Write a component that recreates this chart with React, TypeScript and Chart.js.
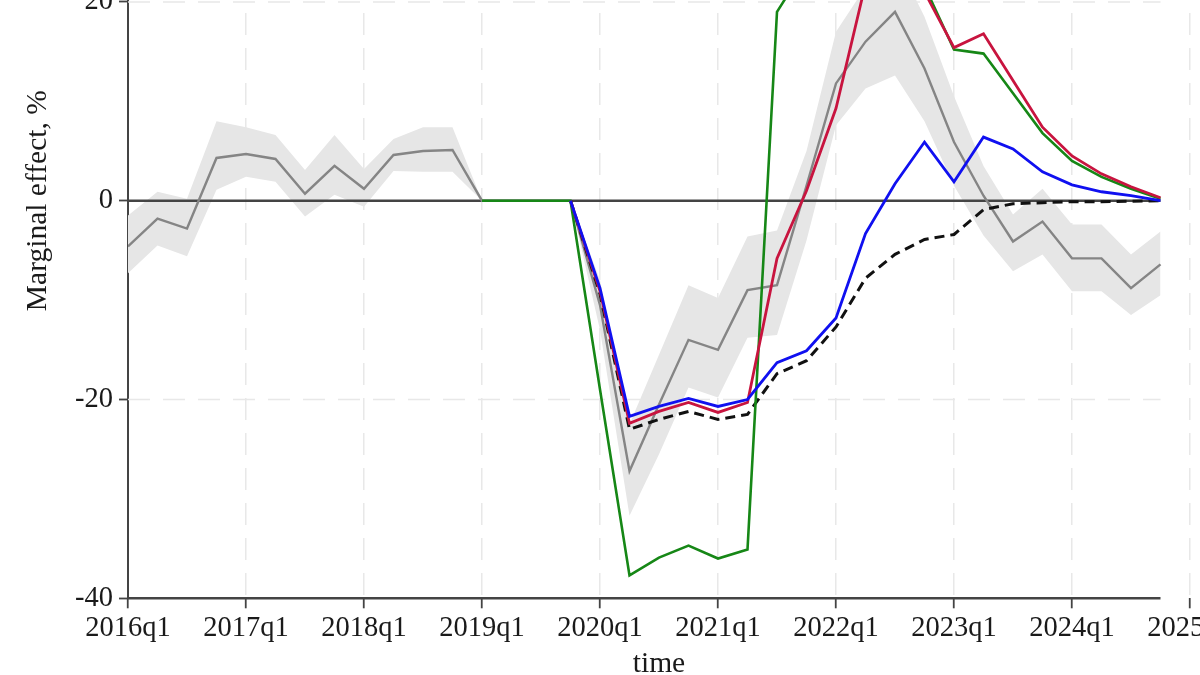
import { useEffect, useRef } from "react";
import { Chart, registerables } from "chart.js";

Chart.register(...registerables);

// quarters 2016q1 .. 2024q4 (x index 0..35)
const QUARTERS = [
  "2016q1", "2016q2", "2016q3", "2016q4",
  "2017q1", "2017q2", "2017q3", "2017q4",
  "2018q1", "2018q2", "2018q3", "2018q4",
  "2019q1", "2019q2", "2019q3", "2019q4",
  "2020q1", "2020q2", "2020q3", "2020q4",
  "2021q1", "2021q2", "2021q3", "2021q4",
  "2022q1", "2022q2", "2022q3", "2022q4",
  "2023q1", "2023q2", "2023q3", "2023q4",
  "2024q1", "2024q2", "2024q3", "2024q4",
];

const X_TICK_LABELS = [
  "2016q1", "2017q1", "2018q1", "2019q1", "2020q1",
  "2021q1", "2022q1", "2023q1", "2024q1", "2025q1",
];

const Y_MIN = -40;
const Y_MAX = 40;
const Y_STEP = 20;

const ESTIMATE = [
  -4.6, -1.8, -2.8, 4.3, 4.7, 4.2, 0.7, 3.5, 1.2, 4.6, 5.0, 5.1,
  0, 0, 0, 0, -10.5, -27.2, -20.5, -14.0, -15.0, -9.0, -8.5, 1.5,
  11.8, 16.0, 19.0, 13.3, 5.9, 0.5, -4.1, -2.1, -5.8, -5.8, -8.8, -6.4,
];

const CI_UPPER = [
  -1.5, 0.9, 0.2, 8.0, 7.4, 6.6, 3.1, 6.6, 3.2, 6.2, 7.4, 7.4,
  0, 0, 0, 0, -8.0, -22.5, -15.5, -8.5, -9.8, -3.6, -3.0, 5.0,
  17.0, 21.5, 24.5, 18.5, 10.5, 3.5, -1.4, 1.2, -2.4, -2.4, -5.4, -3.1,
];

const CI_LOWER = [
  -7.3, -4.5, -5.6, 1.1, 2.4, 1.9, -1.6, 0.6, -0.6, 3.0, 2.9, 2.9,
  0, 0, 0, 0, -13.0, -31.7, -25.5, -18.8, -19.8, -13.8, -13.5, -4.0,
  7.6, 11.3, 12.6, 8.0, 1.5, -3.5, -7.1, -5.4, -9.1, -9.1, -11.5, -9.5,
];

const SERIES_GREEN = [
  null, null, null, null, null, null, null, null, null, null, null, null,
  0, 0, 0, 0, -19.0, -37.7, -35.9, -34.7, -36.0, -35.1, 19.0, 23.7,
  30.0, 31.0, 28.0, 21.6, 15.2, 14.8, 10.8, 6.8, 4.0, 2.4, 1.2, 0.2,
];

const SERIES_RED = [
  null, null, null, null, null, null, null, null, null, null, null, null,
  null, null, null, 0, -9.1, -22.4, -21.2, -20.3, -21.3, -20.3, -5.8, 1.0,
  9.3, 21.8, 25.0, 21.0, 15.4, 16.8, 12.1, 7.4, 4.5, 2.7, 1.4, 0.3,
];

const SERIES_BLUE = [
  null, null, null, null, null, null, null, null, null, null, null, null,
  null, null, null, 0, -8.8, -21.7, -20.7, -19.9, -20.7, -20.0, -16.3, -15.1,
  -11.8, -3.3, 1.7, 5.9, 1.9, 6.4, 5.2, 2.9, 1.6, 0.9, 0.5, 0.0,
];

const SERIES_DASHED = [
  null, null, null, null, null, null, null, null, null, null, null, null,
  null, null, null, 0, -9.4, -23.0, -22.0, -21.2, -22.0, -21.5, -17.4, -16.1,
  -12.7, -7.8, -5.4, -3.9, -3.4, -0.9, -0.3, -0.2, -0.1, -0.1, -0.05, 0,
];

const FONT = "'Liberation Serif', 'Times New Roman', serif";
const TEXT_COLOR = "#1a1a1a";
const AXIS_COLOR = "#444444";
const GRID_COLOR = "#e8e8e8";
const GRID_DASH = [22, 13];
const BAND_INDEX = 5;
const TICK_FONT_SIZE = 28.5;
const TITLE_FONT_SIZE = 29.5;

const toPoints = (arr: (number | null)[]) =>
  arr
    .map((v, i) => (v === null ? null : { x: i, y: v }))
    .filter((p) => p !== null) as { x: number; y: number }[];

const axisPlugin = {
  id: "axisLines",
  beforeDatasetsDraw(chart: any) {
    const { ctx, scales } = chart;
    const x = scales.x;
    const y = scales.y;
    const x0 = x.getPixelForValue(0);
    const x1 = x.getPixelForValue(QUARTERS.length - 1);
    ctx.save();
    ctx.strokeStyle = GRID_COLOR;
    ctx.lineWidth = 1.5;
    ctx.setLineDash(GRID_DASH);
    for (const t of y.ticks) {
      if (t.value === 0 || t.value === y.min || t.value === y.max) continue;
      const py = y.getPixelForValue(t.value);
      ctx.beginPath();
      ctx.moveTo(x0, py);
      ctx.lineTo(x1, py);
      ctx.stroke();
    }
    ctx.restore();
  },
  afterDatasetDraw(chart: any, args: any) {
    if (args.index !== BAND_INDEX) return;
    const { ctx, scales } = chart;
    const x = scales.x;
    const y = scales.y;
    const py = y.getPixelForValue(0);
    ctx.save();
    ctx.strokeStyle = AXIS_COLOR;
    ctx.lineWidth = 2.5;
    ctx.beginPath();
    ctx.moveTo(x.getPixelForValue(0), py);
    ctx.lineTo(x.getPixelForValue(QUARTERS.length - 1), py);
    ctx.stroke();
    ctx.restore();
  },
  afterDatasetsDraw(chart: any) {
    const { ctx, scales } = chart;
    const x = scales.x;
    const y = scales.y;
    const py = y.getPixelForValue(y.min);
    ctx.save();
    ctx.strokeStyle = AXIS_COLOR;
    ctx.lineWidth = 2.5;
    ctx.beginPath();
    ctx.moveTo(x.getPixelForValue(0) - 1, py);
    ctx.lineTo(x.getPixelForValue(QUARTERS.length - 1), py);
    ctx.stroke();
    ctx.restore();
  },
};

export default function App() {
  const ref = useRef<HTMLCanvasElement | null>(null);

  useEffect(() => {
    if (!ref.current) return;
    const lineBase = {
      pointRadius: 0,
      pointHoverRadius: 0,
      fill: false,
      tension: 0,
      borderJoinStyle: "miter" as const,
    };
    const chart = new Chart(ref.current, {
      type: "line",
      data: {
        datasets: [
          { ...lineBase, label: "blue", data: toPoints(SERIES_BLUE), borderColor: "#1010f0", borderWidth: 2.8 },
          { ...lineBase, label: "red", data: toPoints(SERIES_RED), borderColor: "#c8143f", borderWidth: 2.8 },
          { ...lineBase, label: "green", data: toPoints(SERIES_GREEN), borderColor: "#168716", borderWidth: 2.6 },
          { ...lineBase, label: "dashed", data: toPoints(SERIES_DASHED), borderColor: "#111111", borderWidth: 3, borderDash: [10, 6] },
          { ...lineBase, label: "estimate", data: toPoints(ESTIMATE), borderColor: "#858585", borderWidth: 2.4 },
          {
            ...lineBase,
            label: "ci_upper",
            data: toPoints(CI_UPPER),
            borderWidth: 0,
            borderColor: "rgba(0,0,0,0)",
            backgroundColor: "#e6e6e6",
            fill: "+1",
          },
          { ...lineBase, label: "ci_lower", data: toPoints(CI_LOWER), borderWidth: 0, borderColor: "rgba(0,0,0,0)" },
        ],
      },
      options: {
        animation: false,
        responsive: false,
        events: [],
        layout: { padding: { top: 20.3, left: 0, right: 70, bottom: 0 } },
        plugins: {
          legend: { display: false },
          tooltip: { enabled: false },
          filler: { propagate: false },
        },
        scales: {
          x: {
            type: "linear",
            min: 0,
            max: 36,
            afterFit: (s: any) => {
              s.height = 91.7;
            },
            afterBuildTicks: (s: any) => {
              s.ticks = X_TICK_LABELS.map((_, i) => ({ value: i * 4 }));
            },
            ticks: {
              autoSkip: false,
              maxRotation: 0,
              minRotation: 0,
              padding: 3,
              color: TEXT_COLOR,
              font: { family: FONT, size: TICK_FONT_SIZE },
              callback: (v: any) => X_TICK_LABELS[Math.round(Number(v) / 4)] ?? "",
            },
            grid: {
              display: true,
              drawOnChartArea: true,
              drawTicks: true,
              color: GRID_COLOR,
              lineWidth: 1.5,
              tickLength: 10,
              tickColor: AXIS_COLOR,
              tickWidth: 1.8,
              tickBorderDash: [],
            },
            border: { display: false, dash: GRID_DASH },
            title: {
              display: true,
              text: "time",
              color: TEXT_COLOR,
              font: { family: FONT, size: TITLE_FONT_SIZE },
              padding: { top: 0, bottom: 8.3 },
            },
          },
          y: {
            type: "linear",
            min: Y_MIN,
            max: Y_MAX,
            afterFit: (s: any) => {
              s.width = 128;
            },
            ticks: {
              stepSize: Y_STEP,
              padding: 6,
              color: TEXT_COLOR,
              font: { family: FONT, size: TICK_FONT_SIZE },
            },
            grid: {
              display: true,
              drawOnChartArea: false,
              drawTicks: true,
              tickLength: 9,
              tickColor: AXIS_COLOR,
              tickWidth: 1.8,
              tickBorderDash: [],
            },
            border: { display: true, color: AXIS_COLOR, width: 2 },
            title: {
              display: true,
              text: "Marginal effect, %",
              color: TEXT_COLOR,
              font: { family: FONT, size: TITLE_FONT_SIZE },
              padding: { top: 20.3, bottom: 0 },
            },
          },
        },
      },
      plugins: [axisPlugin],
    } as any);
    return () => chart.destroy();
  }, []);

  return (
    <div
      style={{
        position: "fixed",
        top: 0,
        left: 0,
        width: 1200,
        height: 675,
        overflow: "hidden",
        background: "#ffffff",
      }}
    >
      <canvas
        ref={ref}
        width={1260}
        height={910}
        style={{ position: "absolute", left: 0, top: -220, width: 1260, height: 910 }}
      />
    </div>
  );
}
